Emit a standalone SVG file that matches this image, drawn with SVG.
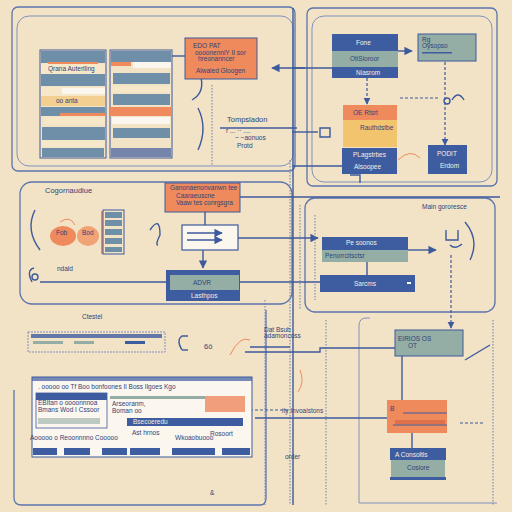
<svg xmlns="http://www.w3.org/2000/svg" width="512" height="512" viewBox="0 0 512 512">
<defs>
<style>
.bg{fill:#f2e2c6}
.frame{fill:none;stroke:#5b74ad;stroke-width:1.3}
.frameL{fill:none;stroke:#7f93bf;stroke-width:1}
.ln{fill:none;stroke:#3d5a9c;stroke-width:1.4}
.dash{fill:none;stroke:#3d5a9c;stroke-width:1.2;stroke-dasharray:3 2}
.dots{fill:none;stroke:#6b7fb0;stroke-width:1;stroke-dasharray:1.5 1.5}
.or{fill:#ee8a5c}
.bl{fill:#3e5da0}
.gg{fill:#95aea5}
.bg2{fill:#6f8fa8}
.ye{fill:#f3c46e}
.cr{fill:#f6e7c8}
.wh{fill:#fbf6ee}
.t{font-family:"Liberation Sans",Arial,sans-serif;font-size:6.5px;fill:#2f447a}
.tw{font-family:"Liberation Sans",Arial,sans-serif;font-size:6.5px;fill:#f4efe4}
.tb{font-family:"Liberation Sans",Arial,sans-serif;font-size:7.5px;fill:#2f447a}
.sq{fill:none;stroke:#ee8a5c;stroke-width:1}
</style>
<marker id="ah" viewBox="0 0 10 10" refX="9" refY="5" markerWidth="6" markerHeight="6" orient="auto-start-reverse">
<path d="M0,0L10,5L0,10z" fill="#3d5a9c"/>
</marker>
</defs>
<rect class="bg" x="0" y="0" width="512" height="512"/>

<!-- panel frames -->
<g id="frames">
<rect class="frame" x="12" y="7" width="283" height="164" rx="6"/>
<rect class="frameL" x="17" y="16" width="276" height="150" rx="12"/>
<rect class="frame" x="307" y="8" width="190" height="178" rx="6"/>
<rect class="frameL" x="312" y="16" width="180" height="166" rx="12"/>
<rect class="frame" x="20" y="182" width="272" height="122" rx="12"/>
<rect class="frame" x="305" y="198" width="190" height="114" rx="10"/>
<path class="frame" d="M14,390 L14,498 Q14,505 22,505 L260,505 Q266,505 266,498 L266,310"/>
<path class="frameL" d="M370,318 L366,318 Q359,318 359,326 L359,503 L497,503"/>
</g>

<!-- connectors -->
<g id="connectors">
<path class="ln" d="M293,8 L293,505"/>
<path class="dots" d="M290,160 L290,505"/>
<path class="dots" d="M265,300 L265,505"/>
<path class="dots" d="M326,320 L326,505"/>
<path class="dots" d="M493,320 L493,505"/>
<path class="ln" d="M305,68 L272,68" marker-end="url(#ah)"/>
<path class="ln" d="M172,56 L185,56"/>
<path class="ln" d="M220,128 L297,128"/>
<path class="ln" d="M198,108 Q208,128 198,150"/>
<path class="dots" d="M212,85 L212,165"/>
<path class="ln" d="M200,74 Q206,92 192,100"/>
<path class="ln" d="M398,51 L412,51" marker-end="url(#ah)" stroke-width="3"/>
<path class="ln" d="M292,68 L332,68"/>
<path class="ln" d="M292,132 L318,132"/>
<path class="ln" d="M292,166 L342,166"/>
<path class="dash" d="M367,78 L367,104" marker-end="url(#ah)"/>
<path class="dash" d="M445,62 L445,145" marker-end="url(#ah)"/>
<path class="dash" d="M400,98 L440,98"/>
<path class="ln" d="M320,128 L330,128 L330,137 L320,137 Z"/>
<path class="ln" d="M452,100 Q458,90 464,100"/>
<circle class="ln" cx="447" cy="101" r="3"/>
<path class="ln" d="M205,212 L205,225"/>
<path class="ln" d="M203,250 L203,268" marker-end="url(#ah)"/>
<path class="ln" d="M240,197 L500,197"/>
<path class="ln" d="M238,238 L318,238" marker-end="url(#ah)"/>
<path class="ln" d="M240,282 L320,282"/>
<path class="ln" d="M40,282 L166,282"/>
<path class="ln" d="M408,250 L436,250" marker-end="url(#ah)"/>
<path class="ln" d="M367,262 L367,275"/>
<path class="dash" d="M451,255 L451,328" marker-end="url(#ah)"/>
<path class="dots" d="M300,205 L300,310"/>
<path class="dots" d="M315,215 L315,300"/>
<path class="ln" d="M245,352 L320,352 L320,348 L395,348"/>
<path class="ln" d="M250,347 L290,347"/>
<path class="ln" d="M255,418 L400,418"/>
<path class="dash" d="M230,410 L290,410"/>
<path class="ln" d="M402,355 L402,400"/>
<path class="ln" d="M412,433 L412,448"/>
<path class="dash" d="M460,423 L485,423"/>
<path class="ln" d="M465,360 L490,345"/>
<path class="ln" d="M32,282 Q26,270 34,268"/>
<circle class="ln" cx="35" cy="277" r="3"/>
<path class="ln" d="M150,230 Q160,215 160,235 Q155,245 158,245"/>
<path class="ln" d="M182,350 Q176,340 182,336 L188,336"/>
<path class="ln" d="M182,350 L188,350"/>
<path class="sq" d="M230,355 Q240,335 250,340"/>
<path class="sq" d="M60,222 Q70,215 75,225"/>
<path class="sq" d="M398,160 Q410,148 420,158"/>
<path class="sq" d="M300,370 Q305,382 298,392"/>
<path class="ln" d="M350,175 L360,175 L360,183"/>
<path class="ln" d="M230,438 L230,448"/>
</g>

<!-- left table -->
<g id="table">
<rect x="40" y="50" width="66" height="108" fill="none" stroke="#3d5a9c" stroke-width="1"/>
<rect class="bg2" x="41" y="51" width="64" height="12"/>
<rect class="or" x="48" y="62" width="50" height="2"/>
<rect class="cr" x="41" y="64" width="64" height="10"/>
<text class="t" x="48" y="71" font-size="5">Qrana Auterlling</text>
<rect class="bg2" x="41" y="74" width="64" height="12"/>
<rect class="cr" x="41" y="87" width="64" height="9"/>
<rect class="wh" x="62" y="88" width="43" height="6"/>
<rect class="ye" x="41" y="96" width="64" height="10" opacity="0.6"/>
<text class="t" x="56" y="103" font-size="4.5">oo anta</text>
<rect class="bg2" x="41" y="107" width="64" height="9"/>
<rect class="or" x="60" y="113" width="45" height="3"/>
<rect class="cr" x="44" y="117" width="61" height="7"/>
<rect class="bg2" x="42" y="127" width="63" height="13"/>
<rect class="cr" x="41" y="140" width="64" height="7"/>
<rect class="bg2" x="42" y="148" width="62" height="9"/>

<rect x="110" y="50" width="62" height="108" fill="none" stroke="#3d5a9c" stroke-width="1"/>
<rect class="bg2" x="111" y="51" width="60" height="11"/>
<rect class="or" x="111" y="62" width="20" height="4"/>
<rect class="wh" x="133" y="62" width="38" height="6"/>
<rect class="bg2" x="113" y="73" width="57" height="11"/>
<rect class="cr" x="111" y="86" width="60" height="6"/>
<rect class="bg2" x="113" y="94" width="57" height="11"/>
<rect class="or" x="110" y="107" width="62" height="9"/>
<rect class="wh" x="112" y="117" width="58" height="7"/>
<rect class="bg2" x="113" y="128" width="57" height="10"/>
<rect class="bl" x="111" y="148" width="60" height="9" opacity="0.7"/>
</g>

<g id="n-orange-top">
<rect class="or" x="185" y="38" width="72" height="41" stroke="#3d5a9c" stroke-width="1"/>
<text class="t" x="193" y="48">EDO PAT</text>
<text class="t" x="195" y="55" font-size="5.5">oooonennlY II sor</text>
<text class="t" x="198" y="61" font-size="5.5">hreonanncer</text>
<text class="t" x="196" y="73">Alwaled Gloogen</text>
</g>

<g id="n-tomps">
<text class="tb" x="227" y="122" font-size="8">Tompsladon</text>
<text class="t" x="226" y="133" font-size="5">r ... ·· .... </text>
<text class="t" x="235" y="140" font-size="5.5">~ ~aonuos</text>
<text class="t" x="237" y="148">Protd</text>
</g>

<g id="n-fone">
<rect class="bl" x="332" y="34" width="66" height="17"/>
<text class="tw" x="356" y="45">Fone</text>
<rect class="gg" x="332" y="51" width="66" height="16"/>
<text class="t" x="350" y="61">OtiSioroor</text>
<rect class="bl" x="332" y="67" width="66" height="11"/>
<text class="tw" x="356" y="75">Niasrom</text>
</g>

<g id="n-gray">
<rect class="gg" x="418" y="34" width="58" height="27" stroke="#3d5a9c" stroke-width="1"/>
<text class="t" x="422" y="42" font-size="5.5">Rg</text>
<text class="t" x="422" y="48" font-size="5.5">Oysopso</text>
<rect class="bl" x="422" y="52" width="30" height="1.5"/>
</g>

<g id="n-stack">
<rect class="or" x="343" y="105" width="54" height="15"/>
<text class="t" x="353" y="115" font-size="5.5">OE  Rtsrt</text>
<rect class="ye" x="343" y="120" width="54" height="27"/>
<text class="t" x="360" y="130">Rauthdstbe</text>
<rect class="bl" x="342" y="148" width="55" height="26"/>
<text class="tw" x="353" y="157">PLagstrbes</text>
<text class="tw" x="354" y="169">Alsoopee</text>
</g>

<g id="n-podit">
<rect class="bl" x="428" y="145" width="39" height="29"/>
<text class="tw" x="437" y="156">PODIT</text>
<text class="tw" x="440" y="168">Erdom</text>
</g>

<g id="n-cogor">
<text class="tb" x="45" y="193">Cogornaudiue</text>
<ellipse class="or" cx="63" cy="236" rx="13" ry="10"/>
<text class="t" x="56" y="235" font-size="5">Fob</text>
<ellipse cx="88" cy="236" rx="11" ry="10" fill="#f0a476"/>
<text class="t" x="82" y="235" font-size="5">Bod</text>
<text class="t" x="57" y="271">ndald</text>
<path class="ln" d="M35,210 Q25,230 40,250"/>
</g>

<g id="n-list">
<rect class="or" x="101" y="211" width="2" height="43"/>
<rect x="103" y="210" width="21" height="44" fill="none" stroke="#3d5a9c"/>
<rect class="bg2" x="105" y="212" width="17" height="6"/>
<rect class="bg2" x="105" y="220" width="17" height="6"/>
<rect class="bg2" x="105" y="229" width="17" height="6"/>
<rect class="bg2" x="105" y="238" width="17" height="6"/>
<rect class="bg2" x="105" y="247" width="17" height="5"/>
</g>

<g id="n-orange-mid">
<rect class="or" x="165" y="183" width="75" height="29" stroke="#3d5a9c" stroke-width="1"/>
<text class="t" x="170" y="190" font-size="4.5">Ganonaenonvanwn tee</text>
<text class="t" x="176" y="198" font-size="6">Caaraeuscne</text>
<text class="t" x="176" y="205" font-size="5.5">Vaaw tes conrgsgra</text>
</g>

<g id="n-arrows">
<rect class="wh" x="182" y="225" width="56" height="25" stroke="#3d5a9c" stroke-width="1.2"/>
<path class="ln" d="M187,233 L222,233" marker-end="url(#ah)"/>
<path class="ln" d="M187,240 L222,240" marker-end="url(#ah)"/>
</g>

<g id="n-advr">
<rect class="bl" x="166" y="270" width="74" height="31"/>
<rect class="gg" x="170" y="275" width="69" height="15"/>
<text class="t" x="193" y="285">ADVR</text>
<text class="tw" x="191" y="298">Lasthpos</text>
</g>

<g id="n-main">
<text class="t" x="422" y="209">Main gororesce</text>
<path class="ln" d="M446,230 L446,240 L458,240 L458,230 M450,245 Q455,250 462,244"/>
<path class="ln" d="M465,222 Q480,240 470,260"/>
</g>

<g id="n-pe">
<rect class="bl" x="322" y="237" width="86" height="13"/>
<text class="tw" x="346" y="245" font-size="5.5">Pe   soonos</text>
<rect class="gg" x="322" y="250" width="86" height="12"/>
<text class="t" x="325" y="258" font-size="5">Penorrcitsctsr</text>
</g>

<g id="n-sarcms">
<rect class="bl" x="320" y="275" width="95" height="17"/>
<text class="tw" x="354" y="286" font-size="5.5">Sarcms</text>
<rect x="407" y="282" width="4" height="2" fill="#fff"/>
</g>

<g id="n-bar">
<text class="t" x="82" y="319">Ctestel</text>
<rect x="28" y="332" width="137" height="20" fill="none" stroke="#7f93bf" stroke-dasharray="2 1"/>
<rect class="bl" x="31" y="334" width="131" height="4" opacity="0.8"/>
<rect class="gg" x="33" y="341" width="30" height="3"/>
<rect class="gg" x="74" y="341" width="20" height="3"/>
<rect class="bl" x="125" y="341" width="20" height="3"/>
</g>

<g id="n-dat">
<text class="t" x="264" y="332">Dat Bsub</text>
<text class="t" x="264" y="338" font-size="5">adamoncoss</text>
<text class="tb" x="204" y="349" font-size="10">6ô</text>
</g>

<g id="n-eirios">
<rect class="gg" x="395" y="330" width="68" height="26" stroke="#3d5a9c" stroke-width="1"/>
<text class="t" x="398" y="341" font-size="5.5">EIRIOS OS</text>
<text class="t" x="408" y="348" font-size="5.5">OT</text>
</g>

<g id="n-window">
<rect class="wh" x="32" y="377" width="220" height="80" stroke="#3d5a9c" stroke-width="1"/>
<rect class="bl" x="32" y="377" width="220" height="4" opacity="0.7"/>
<text class="t" x="38" y="389" font-size="4.5">. ooooo oo  Tf  Boo   bonfoones  Il  Boss   Ilgoes  Kgo</text>
<rect class="bl" x="36" y="393" width="71" height="7"/>
<text class="t" x="38" y="405" font-size="4.5">EBItan o oooonnnoa</text>
<text class="t" x="38" y="412" font-size="4.5">Bmans Wod  I Cssoor</text>
<rect class="gg" x="38" y="418" width="62" height="6" opacity="0.6"/>
<rect x="36" y="393" width="71" height="35" fill="none" stroke="#3d5a9c" stroke-width="0.8"/>
<rect class="gg" x="110" y="396" width="95" height="3"/>
<text class="t" x="112" y="406" font-size="4.5">Arseoranm,</text>
<text class="t" x="112" y="413" font-size="4.5">Boman oo</text>
<rect class="or" x="205" y="396" width="40" height="16" opacity="0.8"/>
<rect class="bl" x="127" y="418" width="116" height="8"/>
<text class="tw" x="133" y="424" font-size="4.5">Bsecoeredu</text>
<text class="t" x="132" y="435" font-size="4.5">Ast hrnos</text>
<text class="t" x="175" y="440" font-size="4.5">Wkoaobuooo</text>
<text class="t" x="210" y="436" font-size="4.5">Rosoort</text>
<text class="t" x="30" y="440" font-size="4.5">Aooooo o Reoonnnno  Cooooo</text>
<rect class="bl" x="33" y="448" width="24" height="7"/>
<rect class="bl" x="64" y="448" width="26" height="7"/>
<rect class="bl" x="102" y="448" width="25" height="7"/>
<rect class="bl" x="130" y="448" width="30" height="7"/>
<rect class="bl" x="172" y="448" width="43" height="7"/>
<rect class="bl" x="222" y="448" width="28" height="7"/>
</g>

<g id="n-invo">
<text class="t" x="282" y="413">ity Invoaistons</text>
<text class="t" x="285" y="459">order</text>
<text class="t" x="210" y="495" font-size="8">&amp;</text>
</g>

<g id="n-orange-bot">
<rect class="or" x="387" y="400" width="60" height="33"/>
<path d="M403,413 L447,413" stroke="#3d5a9c" stroke-width="1.2"/>
<rect x="395" y="420" width="50" height="4" fill="#e0704a"/>
<path d="M393,425 L447,425" stroke="#3d5a9c" stroke-width="1"/>
<text class="t" x="390" y="411" font-size="5.5">B</text>
</g>

<g id="n-consol">
<rect class="bl" x="390" y="448" width="56" height="12"/>
<text class="tw" x="395" y="457">A  Consoltis</text>
<rect class="gg" x="391" y="460" width="54" height="17"/>
<text class="t" x="407" y="470" font-size="5.5">Cosiore</text>
<rect class="bl" x="390" y="477" width="56" height="3"/>
</g>
</svg>
